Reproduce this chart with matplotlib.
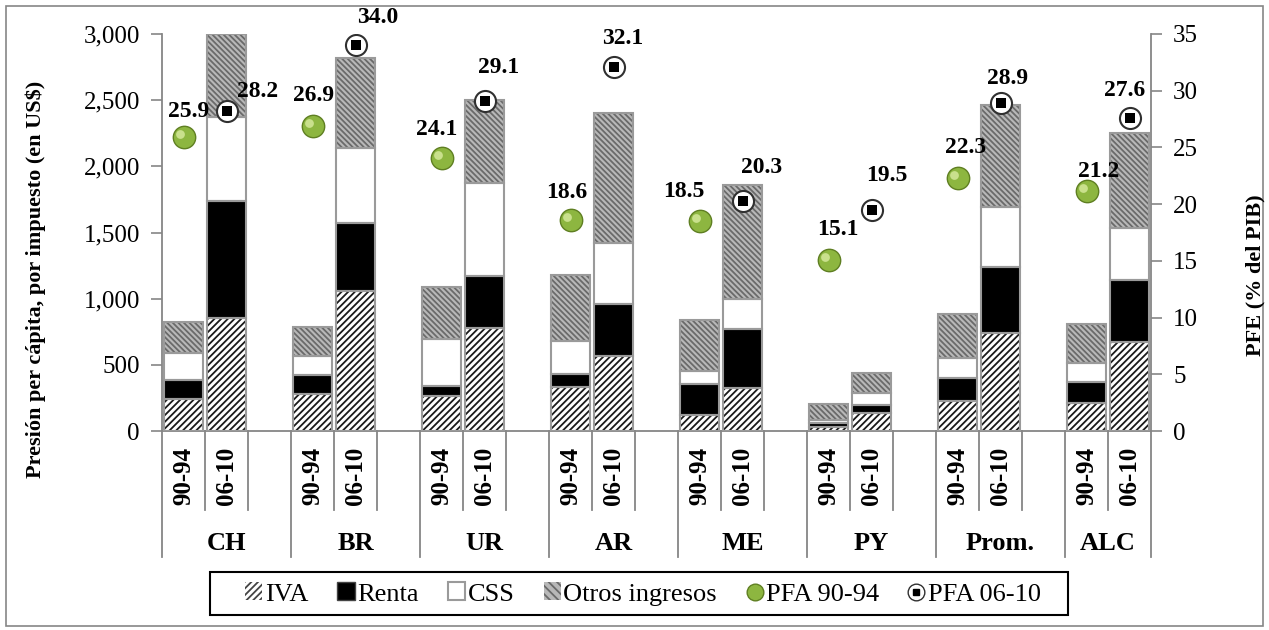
import numpy as np
import matplotlib.pyplot as plt
from matplotlib.patches import Patch, Rectangle
from matplotlib.lines import Line2D
from matplotlib.legend_handler import HandlerTuple
from matplotlib.ticker import FuncFormatter

plt.rcParams['font.family'] = ['Liberation Serif', 'DejaVu Serif']
plt.rcParams['hatch.linewidth'] = 1.3

groups = ['CH', 'BR', 'UR', 'AR', 'ME', 'PY', 'Prom.', 'ALC']
periods = ['90-94', '06-10']

# US$ per capita, by tax
iva_9094 = [241, 282, 267, 330, 123, 34, 229, 211]
iva_0610 = [851, 1058, 780, 565, 325, 135, 742, 674]
renta_9094 = [142, 144, 76, 104, 235, 25, 172, 157]
renta_0610 = [890, 514, 392, 392, 443, 64, 498, 466]
css_9094 = [207, 139, 349, 245, 93, 26, 152, 146]
css_0610 = [632, 566, 703, 460, 227, 88, 450, 394]
otros_9094 = [233, 220, 399, 501, 387, 121, 333, 292]
otros_0610 = [627, 678, 625, 987, 862, 152, 777, 718]

# PFE (% del PIB)
pfa_9094 = [25.9, 26.9, 24.1, 18.6, 18.5, 15.1, 22.3, 21.2]
pfa_0610 = [28.2, 34.0, 29.1, 32.1, 20.3, 19.5, 28.9, 27.6]

# label offsets in pixels (hand placed, like the original)
off_9094 = [(5, 26), (1, 30), (-5, 28), (-4, 28), (-16, 30), (9, 30), (8, 31), (12, 19)]
off_0610 = [(31, 20), (22, 28), (14, 33), (9, 28), (19, 33), (15, 34), (7, 25), (-5, 27)]

grey = '#868686'
n = len(groups)
x1 = np.arange(n) * 3
x2 = x1 + 1
w = 0.92

fig = plt.figure(figsize=(12.69, 6.30), dpi=100)
ax = fig.add_axes([162 / 1269, 1 - 431 / 630, (1151 - 162) / 1269, (431 - 34) / 630])
ax2 = ax.twinx()

styles = [
    dict(facecolor='white', hatch='/////', hcol='#1a1a1a'),
    dict(facecolor='black', hatch=None, hcol='black'),
    dict(facecolor='white', hatch=None, hcol='white'),
    dict(facecolor='#b8b8b8', hatch='\\\\\\\\\\\\', hcol='#6a6a6a'),
]
series_9094 = [iva_9094, renta_9094, css_9094, otros_9094]
series_0610 = [iva_0610, renta_0610, css_0610, otros_0610]

for xs, series in [(x1, series_9094), (x2, series_0610)]:
    bottom = np.zeros(n)
    for vals, st in zip(series, styles):
        vals = np.array(vals, dtype=float)
        ax.bar(xs, vals, w, bottom=bottom, color=st['facecolor'], hatch=st['hatch'],
               edgecolor=st['hcol'], linewidth=0, zorder=2)
        ax.bar(xs, vals, w, bottom=bottom, fill=False, edgecolor='#9a9a9a',
               linewidth=1.5, zorder=3)
        bottom += vals

ax.set_xlim(-0.5, 3 * n - 1.5)
ax.set_ylim(0, 3000)
ax.set_yticks(np.arange(0, 3001, 500))
ax.yaxis.set_major_formatter(FuncFormatter(lambda v, p: '{:,.0f}'.format(v)))
ax.tick_params(axis='y', labelsize=18, length=8, width=1.2, color=grey, pad=8)
ax.set_xticks([])
for s in ['top', 'right']:
    ax.spines[s].set_visible(False)
for s in ['left', 'bottom']:
    ax.spines[s].set_color(grey)
    ax.spines[s].set_linewidth(1.3)

ax2.set_ylim(0, 35)
ax2.set_yticks(np.arange(0, 36, 5))
ax2.tick_params(axis='y', labelsize=18, length=8, width=1.2, color=grey, pad=8)
for s in ['top', 'left', 'bottom']:
    ax2.spines[s].set_visible(False)
ax2.spines['right'].set_color(grey)
ax2.spines['right'].set_linewidth(1.3)

# PFA markers
ax2.scatter(x1, pfa_9094, s=260, color='#8db640', edgecolor='#5f7f22', linewidth=1, zorder=5)
ax2.scatter(x1 - 0.08, np.array(pfa_9094) + 0.25, s=40, color='#c9e08c', linewidth=0, zorder=6)
ax2.scatter(x2, pfa_0610, s=230, color='white', edgecolor='#303030', linewidth=1.5, zorder=5)
ax2.scatter(x2, pfa_0610, s=45, marker='s', color='black', linewidth=0, zorder=6)

for xs, vals, offs in [(x1, pfa_9094, off_9094), (x2, pfa_0610, off_0610)]:
    for xi, v, o in zip(xs, vals, offs):
        ax2.annotate('{:.1f}'.format(v), (xi, v), xytext=o, textcoords='offset pixels',
                     ha='center', va='center', fontsize=17, fontweight='bold', zorder=7)

# multi-level category axis
tr = ax.get_xaxis_transform()
total = 3 * n - 1
for i in range(total + 1):
    xb = i - 0.5
    long_line = (i % 3 == 0) or i == total
    y_end = -(557 - 431) / 397 if long_line else -(510 - 431) / 397
    ax.plot([xb, xb], [0, y_end], color=grey, lw=1.3, transform=tr, clip_on=False)

for g in range(n):
    for k, xs in enumerate([x1, x2]):
        ax.text(xs[g], -(447 - 431) / 397, periods[k], transform=tr, rotation=90,
                ha='center', va='top', fontsize=18, fontweight='bold')
    right = min(3 * g + 2.5, total - 0.5)
    ax.text((3 * g - 0.5 + right) / 2, -(543 - 431) / 397, groups[g], transform=tr,
            ha='center', va='center', fontsize=19, fontweight='bold')

fig.text(36 / 1269, 1 - 279 / 630, 'Presión per cápita, por impuesto (en US$)',
         rotation=90, ha='center', va='center', fontsize=16, fontweight='bold')
fig.text(1255 / 1269, 1 - 275 / 630, 'PFE (% del PIB)',
         rotation=90, ha='center', va='center', fontsize=16, fontweight='bold')

handles = [
    Patch(facecolor='white', hatch='/////', edgecolor='#444444', linewidth=0),
    Patch(facecolor='black', edgecolor='#444444'),
    Patch(facecolor='white', edgecolor='#9a9a9a', linewidth=1.5),
    Patch(facecolor='#b8b8b8', hatch='\\\\\\\\', edgecolor='#6a6a6a', linewidth=0),
    Line2D([], [], ls='none', marker='o', ms=12, mfc='#8db640', mec='#5f7f22'),
    (Line2D([], [], ls='none', marker='o', ms=12, mfc='white', mec='#303030'),
     Line2D([], [], ls='none', marker='s', ms=4, mfc='black', mec='black')),
]
labels = ['IVA', 'Renta', 'CSS', 'Otros ingresos', 'PFA 90-94', 'PFA 06-10']
leg = fig.legend(handles, labels, loc='center', bbox_to_anchor=(643 / 1269, 1 - 594 / 630),
                 ncol=6, fontsize=19, frameon=False, handlelength=0.65,
                 handleheight=0.65, handletextpad=0.1, columnspacing=1.1,
                 borderpad=0.2, handler_map={tuple: HandlerTuple(ndivide=1)})
fig.patches.append(Rectangle((210 / 1269, 1 - 615 / 630), 858 / 1269, 43 / 630,
                             transform=fig.transFigure, fill=False, edgecolor='black',
                             linewidth=1.5))

fig.patches.append(Rectangle((6 / 1269, 4 / 630), 1257 / 1269, 620 / 630, transform=fig.transFigure,
                             fill=False, edgecolor=grey, linewidth=1.2))

plt.savefig('out.png', dpi=100)
